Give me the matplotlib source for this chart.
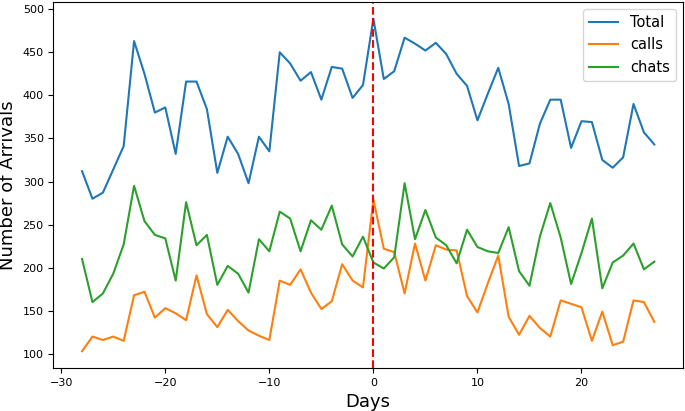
import numpy as np
import matplotlib
matplotlib.use("Agg")
import matplotlib.pyplot as plt

days = np.arange(-28, 28)

total = [312, 280, 287, 314, 341, 463, 425, 380, 386, 332, 416, 416, 384, 310,
         352, 332, 298, 352, 335, 450, 437, 417, 427, 395, 433, 431, 397, 412,
         489, 419, 428, 467, 460, 452, 461, 448, 425, 411, 371, 402, 432, 390,
         318, 321, 367, 395, 395, 339, 370, 369, 325, 316, 328, 390, 357, 343]

calls = [103, 120, 116, 120, 115, 168, 172, 142, 153, 147, 139, 191, 146, 131,
         151, 138, 127, 121, 116, 185, 180, 198, 171, 152, 161, 204, 185, 177,
         279, 222, 218, 170, 228, 185, 226, 221, 220, 167, 148, 182, 214, 143,
         122, 144, 130, 120, 162, 158, 154, 115, 149, 110, 114, 162, 160, 137]

chats = [210, 160, 170, 193, 227, 295, 254, 238, 234, 185, 276, 226, 238, 180,
         202, 193, 171, 233, 219, 265, 257, 219, 255, 244, 272, 227, 213, 236,
         206, 199, 212, 298, 233, 267, 235, 226, 205, 244, 224, 219, 217, 247,
         196, 179, 236, 275, 235, 181, 217, 257, 176, 206, 214, 228, 198, 207]

fig, ax = plt.subplots(figsize=(6.85, 4.11), dpi=100)
fig.subplots_adjust(left=0.078, right=0.997, top=0.995, bottom=0.105)

ax.plot(days, total, label='Total')
ax.plot(days, calls, label='calls')
ax.plot(days, chats, label='chats')
ax.axvline(0, color='red', linestyle='--')

ax.tick_params(labelsize=8)
ax.set_xlabel('Days', fontsize=13)
ax.set_ylabel('Number of Arrivals', fontsize=13)
ax.legend(loc='upper right', fontsize=10.5)

plt.savefig('out.png')
